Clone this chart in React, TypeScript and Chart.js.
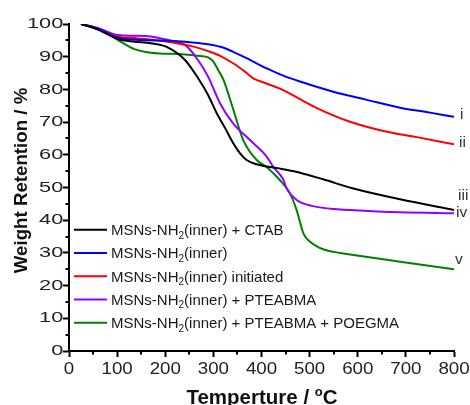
import React, { useEffect, useRef } from 'react';
import { Chart, registerables } from 'chart.js';

Chart.register(...registerables);

const FONT = '"Liberation Sans", Arial, Helvetica, sans-serif';

// axis ticks
const xTickValues = [0, 100, 200, 300, 400, 500, 600, 700, 800];
const yTickValues = [0, 10, 20, 30, 40, 50, 60, 70, 80, 90, 100];
const xMinorTicks = [50, 150, 250, 350, 450, 550, 650, 750];
const yMinorTicks = [5, 15, 25, 35, 45, 55, 65, 75, 85, 95];

// series: MSNs-NH2(inner) + CTAB (black, iii)
const tempCTAB = [25, 60, 102, 136, 170, 206, 241, 268, 289, 307, 325, 341, 355, 369, 390, 445, 480, 528, 591, 688, 800];
const wtCTAB = [100, 98.3, 95.4, 94.6, 94.1, 92.8, 89, 83.5, 78.3, 72.7, 68, 63.6, 60.5, 58.4, 57.1, 55.6, 54.5, 52.5, 49.7, 46.4, 43.1];

// series: MSNs-NH2(inner) (blue, i)
const tempInner = [25, 60, 102, 150, 206, 241, 289, 320, 341, 370, 411, 445, 480, 549, 619, 688, 750, 800];
const wtInner = [100, 98.6, 95.8, 95.1, 94.9, 94.6, 93.8, 92.8, 91.5, 89.5, 86.4, 84.2, 82.4, 79.3, 76.8, 74.4, 72.9, 71.6];

// series: MSNs-NH2(inner) initiated (red, ii)
const tempInit = [25, 60, 102, 136, 206, 261, 289, 315, 341, 365, 383, 410, 445, 480, 515, 584, 653, 723, 800];
const wtInit = [100, 98.5, 96.1, 95.7, 94.6, 93, 91.7, 90.2, 88, 85.5, 83.4, 81.8, 79.8, 77, 74.3, 70.1, 67.3, 65.4, 63.2];

// series: MSNs-NH2(inner) + PTEABMA (purple, iv)
const tempPTEA = [25, 60, 102, 136, 170, 206, 241, 268, 289, 314, 341, 376, 411, 424, 445, 452, 473, 507, 563, 584, 688, 800];
const wtPTEA = [100, 98.8, 96.6, 96.4, 96.2, 95.1, 93.6, 89, 83.9, 75.7, 69.6, 64.5, 59.4, 56.4, 52.5, 49.8, 46.2, 44.3, 43.3, 43.1, 42.4, 42.1];

// series: MSNs-NH2(inner) + PTEABMA + POEGMA (green, v)
const tempPOEG = [25, 67, 102, 136, 170, 241, 272, 289, 300, 310, 321, 341, 362, 390, 411, 438, 459, 473, 487, 501, 528, 563, 584, 688, 800];
const wtPOEG = [100, 98.2, 95.1, 92.3, 91.2, 90.7, 90.2, 89.8, 88.5, 85.9, 82.9, 74, 64.5, 58.4, 56.2, 52.3, 48.2, 43.1, 36, 33.4, 31.1, 30, 29.5, 27.3, 25];

const seriesColors = ['#000000', '#0000ff', '#ff0000', '#9300ff', '#008000'];
const legendLabels = [' + CTAB', '', ' initiated', ' + PTEABMA', ' + PTEABMA + POEGMA'];
const endLabels = ['iii', 'i', 'ii', 'iv', 'v'];
const endLabelValues = [47.4, 72.2, 63.6, 42.4, 27.8];
const endLabelOffsets = [4, 6, 5, 2, 1];

const pairs = (xs: number[], ys: number[]) => xs.map((x, i) => ({ x, y: ys[i] }));

const overlayPlugin = {
  id: 'overlay',
  afterDraw(chart: any) {
    const { ctx, chartArea, scales } = chart;
    const xs = scales.x;
    const ys = scales.y;
    ctx.save();

    // minor ticks
    ctx.strokeStyle = '#000';
    ctx.lineWidth = 2;
    for (const v of yMinorTicks) {
      const py = Math.round(ys.getPixelForValue(v));
      ctx.beginPath();
      ctx.moveTo(chartArea.left, py);
      ctx.lineTo(chartArea.left - 3.5, py);
      ctx.stroke();
    }
    for (const v of xMinorTicks) {
      const px = Math.round(xs.getPixelForValue(v));
      ctx.beginPath();
      ctx.moveTo(px, chartArea.bottom);
      ctx.lineTo(px, chartArea.bottom + 3.5);
      ctx.stroke();
    }

    // y tick labels (stretched look of the original)
    ctx.fillStyle = '#222';
    ctx.textBaseline = 'middle';
    ctx.font = `15px ${FONT}`;
    for (const v of yTickValues) {
      const py = ys.getPixelForValue(v);
      ctx.save();
      ctx.translate(chartArea.left - 5.7, py);
      ctx.scale(1.45, 1);
      ctx.textAlign = 'right';
      ctx.fillText(String(v), 0, 0);
      ctx.restore();
    }
    // x tick labels
    ctx.font = `16.3px ${FONT}`;
    for (const v of xTickValues) {
      const px = xs.getPixelForValue(v);
      ctx.save();
      ctx.translate(px, chartArea.bottom + 18.5);
      ctx.scale(1.15, 1);
      ctx.textAlign = 'center';
      ctx.fillText(String(v), 0, 0);
      ctx.restore();
    }

    // axis titles
    ctx.fillStyle = '#111';
    ctx.textBaseline = 'alphabetic';
    ctx.save();
    ctx.font = `bold 18.7px ${FONT}`;
    ctx.translate(26.7, (chartArea.top + chartArea.bottom) / 2 - 7);
    ctx.rotate(-Math.PI / 2);
    ctx.textAlign = 'center';
    ctx.fillText('Weight Retention / %', 0, 0);
    ctx.restore();

    const tMain = 'Temperture / ';
    const tSup = 'o';
    const tEnd = 'C';
    ctx.font = `bold 20.5px ${FONT}`;
    const wMain = ctx.measureText(tMain).width;
    const wEnd = ctx.measureText(tEnd).width;
    ctx.font = `bold 13px ${FONT}`;
    const wSup = ctx.measureText(tSup).width;
    const total = wMain + wSup + wEnd;
    const cx = (chartArea.left + chartArea.right) / 2 + 0.5;
    let tx = cx - total / 2;
    const baseY = 404;
    ctx.textAlign = 'left';
    ctx.font = `bold 20.5px ${FONT}`;
    ctx.fillText(tMain, tx, baseY);
    tx += wMain;
    ctx.font = `bold 13px ${FONT}`;
    ctx.fillText(tSup, tx, baseY - 8.5);
    tx += wSup;
    ctx.font = `bold 20.5px ${FONT}`;
    ctx.fillText(tEnd, tx, baseY);

    // legend
    const legendTop = 229.7;
    const legendStep = 23.25;
    for (let i = 0; i < legendLabels.length; i++) {
      const y = legendTop + i * legendStep;
      ctx.strokeStyle = seriesColors[i];
      ctx.lineWidth = 2;
      ctx.beginPath();
      ctx.moveTo(74, y);
      ctx.lineTo(107, y);
      ctx.stroke();
      ctx.fillStyle = '#1a1a1a';
      let lx = 111;
      const by = y + 5.5;
      ctx.font = `15px ${FONT}`;
      ctx.fillText('MSNs-NH', lx, by);
      lx += ctx.measureText('MSNs-NH').width;
      ctx.font = `10px ${FONT}`;
      ctx.fillText('2', lx, by + 3.5);
      lx += ctx.measureText('2').width;
      ctx.font = `15px ${FONT}`;
      ctx.fillText('(inner)' + legendLabels[i], lx, by);
    }

    // curve end labels
    ctx.fillStyle = '#333';
    ctx.font = `15.5px ${FONT}`;
    ctx.textBaseline = 'middle';
    ctx.textAlign = 'left';
    for (let i = 0; i < endLabels.length; i++) {
      const px = xs.getPixelForValue(800) + endLabelOffsets[i];
      const py = ys.getPixelForValue(endLabelValues[i]);
      ctx.fillText(endLabels[i], px, py);
    }
    ctx.restore();
  },
};

export default function App() {
  const canvasRef = useRef<HTMLCanvasElement | null>(null);

  useEffect(() => {
    document.body.style.margin = '0';
    const canvas = canvasRef.current;
    if (!canvas) return;
    const seriesData = [
      pairs(tempCTAB, wtCTAB),
      pairs(tempInner, wtInner),
      pairs(tempInit, wtInit),
      pairs(tempPTEA, wtPTEA),
      pairs(tempPOEG, wtPOEG),
    ];
    const chart = new Chart(canvas, {
      type: 'line',
      data: {
        datasets: seriesData.map((d, i) => ({
          label: 'MSNs-NH2(inner)' + legendLabels[i],
          data: d,
          borderColor: seriesColors[i],
          backgroundColor: seriesColors[i],
          borderWidth: 2,
          pointRadius: 0,
          fill: false,
          cubicInterpolationMode: 'monotone' as const,
        })),
      },
      options: {
        animation: false,
        responsive: false,
        devicePixelRatio: 1,
        layout: { padding: { left: 0, top: 24, right: 16, bottom: 0 } },
        plugins: {
          legend: { display: false },
          tooltip: { enabled: false },
          title: { display: false },
        },
        scales: {
          x: {
            type: 'linear',
            min: 0,
            max: 800,
            ticks: { stepSize: 100, display: false },
            grid: { drawOnChartArea: false, drawTicks: true, tickLength: 6, tickWidth: 2, tickColor: '#000' },
            border: { display: true, width: 2, color: '#000' },
            afterFit: (scale: any) => { scale.height = 54; },
          },
          y: {
            type: 'linear',
            min: 0,
            max: 100,
            ticks: { stepSize: 10, display: false },
            grid: { drawOnChartArea: false, drawTicks: true, tickLength: 6, tickWidth: 2, tickColor: '#000' },
            border: { display: true, width: 2, color: '#000' },
            afterFit: (scale: any) => { scale.width = 69; },
          },
        },
      },
      plugins: [overlayPlugin],
    });
    return () => chart.destroy();
  }, []);

  return (
    <div style={{ width: 470, height: 405 }}>
      <canvas ref={canvasRef} width={470} height={405} style={{ display: 'block' }} />
    </div>
  );
}
